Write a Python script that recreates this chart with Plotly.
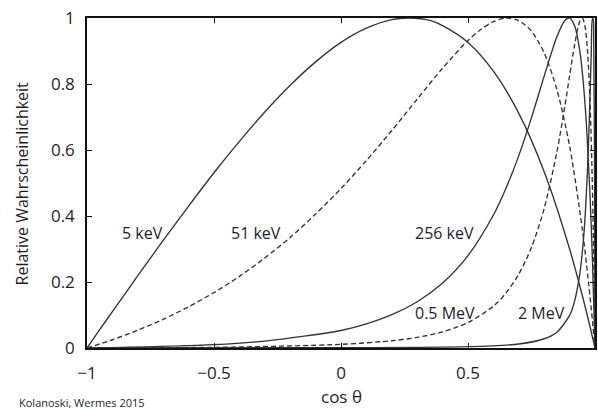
import plotly.graph_objects as go

# cos(theta) sample points and relative probabilities
x_5kev = [-1.0, -0.95, -0.9, -0.8, -0.7, -0.6, -0.5, -0.4, -0.3, -0.2, -0.1, 0.0, 0.1, 0.2, 0.27, 0.35,
          0.4, 0.5, 0.6, 0.7, 0.8, 0.9, 0.95, 0.98, 0.99, 1.0]
y_5kev = [0.0, 0.056, 0.110, 0.219, 0.326, 0.430, 0.531, 0.626, 0.715, 0.796, 0.867, 0.926, 0.969, 0.995, 1.0, 0.993,
          0.977, 0.926, 0.839, 0.711, 0.534, 0.300, 0.159, 0.066, 0.033, 0.0]

x_51kev = [-1.0, -0.9, -0.8, -0.7, -0.6, -0.5, -0.4, -0.3, -0.2, -0.1, 0.0, 0.1, 0.2, 0.3, 0.4, 0.5, 0.55,
           0.6, 0.65, 0.7, 0.75, 0.8, 0.85, 0.9, 0.95, 0.975, 0.99, 1.0]
y_51kev = [0.0, 0.025, 0.054, 0.087, 0.125, 0.168, 0.217, 0.273, 0.335, 0.406, 0.483, 0.568, 0.659, 0.754, 0.848,
           0.932, 0.965, 0.989, 1.0, 0.992, 0.960, 0.894, 0.783, 0.612, 0.360, 0.195, 0.082, 0.0]

x_256kev = [-1.0, -0.9, -0.5, -0.3, 0.0, 0.1, 0.2, 0.3, 0.4, 0.5, 0.6, 0.65, 0.7, 0.75, 0.8, 0.85, 0.88, 0.9,
            0.92, 0.94, 0.96, 0.98, 0.99, 1.0]
y_256kev = [0.0, 0.001, 0.010, 0.021, 0.053, 0.073, 0.101, 0.140, 0.197, 0.280, 0.403, 0.485, 0.583, 0.698, 0.824,
            0.943, 0.991, 1.0, 0.976, 0.901, 0.747, 0.470, 0.265, 0.0]

x_05mev = [-1.0, -0.5, 0.0, 0.2, 0.3, 0.4, 0.5, 0.6, 0.65, 0.7, 0.75, 0.8, 0.85, 0.88, 0.9, 0.92, 0.94, 0.95,
           0.96, 0.97, 0.98, 0.99, 0.995, 1.0]
y_05mev = [0.0, 0.002, 0.011, 0.022, 0.032, 0.049, 0.077, 0.127, 0.167, 0.224, 0.305, 0.423, 0.594, 0.727, 0.825,
           0.920, 0.990, 1.0, 0.978, 0.906, 0.755, 0.478, 0.270, 0.0]

x_2mev = [-1.0, 0.0, 0.5, 0.7, 0.8, 0.85, 0.9, 0.92, 0.94, 0.95, 0.96, 0.97, 0.975, 0.98, 0.985, 0.99, 0.993,
          0.995, 0.998, 1.0]
y_2mev = [0.0, 0.001, 0.004, 0.012, 0.028, 0.048, 0.099, 0.143, 0.224, 0.290, 0.386, 0.533, 0.632, 0.752, 0.885,
          0.996, 0.998, 0.925, 0.573, 0.0]

labels = ["5 keV", "51 keV", "256 keV", "0.5 MeV", "2 MeV"]
label_x = [-0.782, -0.335, 0.406, 0.409, 0.79]
label_y = [0.348, 0.348, 0.348, 0.106, 0.106]

x_ticks = [-1, -0.5, 0, 0.5]
x_ticktext = ["\u22121", "\u22120.5", "0", "0.5"]
y_ticks = [0, 0.2, 0.4, 0.6, 0.8, 1]
y_ticktext = ["0", "0.2", "0.4", "0.6", "0.8", "1"]

series = [
    (x_5kev, y_5kev, "solid"),
    (x_51kev, y_51kev, "5px,3px"),
    (x_256kev, y_256kev, "solid"),
    (x_05mev, y_05mev, "5px,3px"),
    (x_2mev, y_2mev, "solid"),
]

FONT = "Open Sans"
TXT = "#1e1e28"
LINE = "#333333"

fig = go.Figure()
for xs, ys, dash in series:
    fig.add_trace(go.Scatter(
        x=xs, y=ys, mode="lines",
        line=dict(color=LINE, width=1.35, dash=dash, shape="spline", smoothing=0.8),
        showlegend=False, hoverinfo="skip",
    ))

for t, lx, ly in zip(labels, label_x, label_y):
    fig.add_annotation(x=lx, y=ly, xref="x", yref="y", text=t, showarrow=False,
                       font=dict(family=FONT, size=16, color=TXT), xanchor="center", yanchor="middle")

fig.add_annotation(x=0, y=-0.148, xref="paper" if False else "x", yref="paper", text="cos \u03b8",
                   showarrow=False, font=dict(family=FONT, size=17, color=TXT),
                   xanchor="center", yanchor="middle")
fig.add_annotation(x=-0.127, y=0.5, xref="paper", yref="paper", text="Relative Wahrscheinlichkeit",
                   showarrow=False, textangle=-90,
                   font=dict(family=FONT, size=16, color=TXT), xanchor="center", yanchor="middle")
fig.add_annotation(x=-0.137, y=-0.165, xref="paper", yref="paper", text="Kolanoski, Wermes 2015",
                   showarrow=False, font=dict(family=FONT, size=11, color=TXT),
                   xanchor="left", yanchor="middle")

axis_common = dict(showline=True, linecolor="#111", linewidth=1.5, mirror="allticks",
                   ticks="inside", ticklen=5, tickwidth=1.2, tickcolor="#111",
                   showgrid=False, zeroline=False,
                   tickfont=dict(family=FONT, size=17, color=TXT))

fig.update_xaxes(range=[-1, 1], tickvals=x_ticks, ticktext=x_ticktext, ticklabelstandoff=9, **axis_common)
fig.update_yaxes(range=[0, 1], tickvals=y_ticks, ticktext=y_ticktext, ticklabelstandoff=7, **axis_common)

fig.update_layout(
    width=598, height=410,
    margin=dict(l=87, r=1, t=18, b=62),
    paper_bgcolor="white", plot_bgcolor="white",
)

fig.write_html("out.html")
